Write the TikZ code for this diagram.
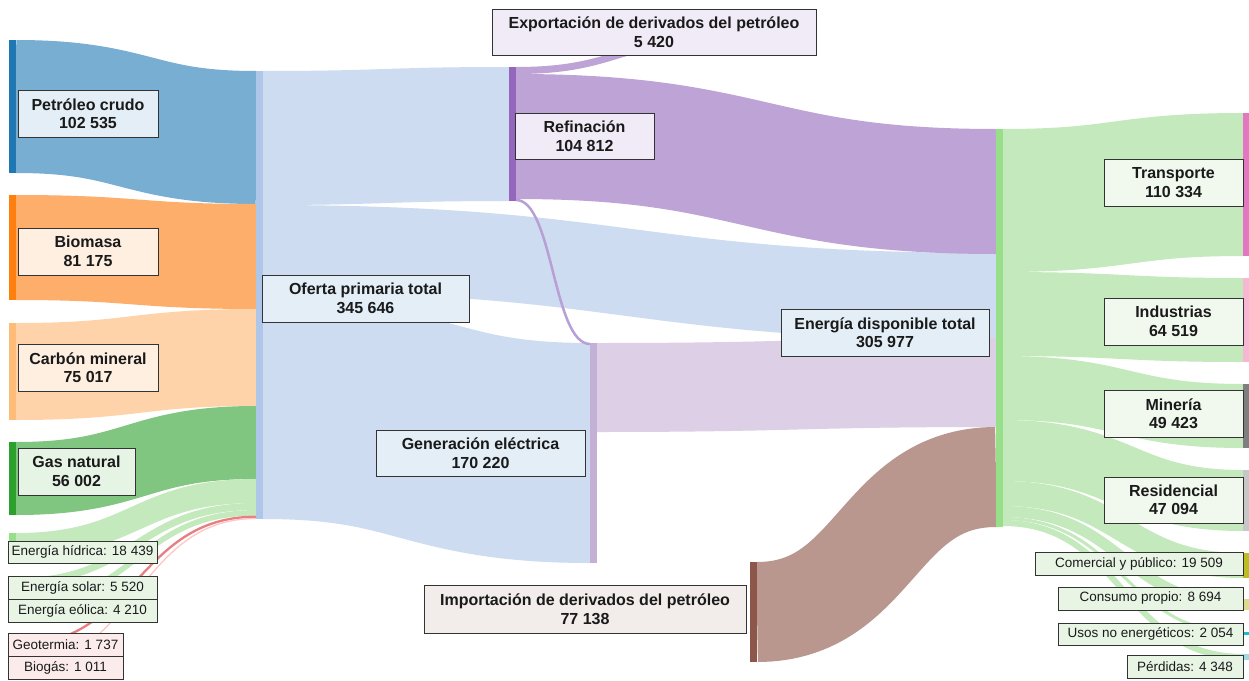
\documentclass[tikz,border=0pt]{standalone}
\usepackage{fontspec}
\setmainfont{Liberation Sans}

% node (bar) colours and link colours
\definecolor{oilbar}{HTML}{1F77B4}  \definecolor{oilflow}{HTML}{79AED3}
\definecolor{biobar}{HTML}{FF7F0E}  \definecolor{bioflow}{HTML}{FDAE6B}
\definecolor{coalbar}{HTML}{FFBB78} \definecolor{coalflow}{HTML}{FFD3AA}
\definecolor{gasbar}{HTML}{2CA02C}  \definecolor{gasflow}{HTML}{80C680}
\definecolor{renbar}{HTML}{98DF8A}  \definecolor{renflow}{HTML}{C3E9BC}
\definecolor{geobar}{HTML}{D62728}  \definecolor{geoflow}{HTML}{E57F80}
\definecolor{biogbar}{HTML}{FF9896} \definecolor{biogflow}{HTML}{FFC6C5}
\definecolor{supbar}{HTML}{AEC7E8}  \definecolor{supflow}{HTML}{CDDCF0}
\definecolor{refbar}{HTML}{9467BD}  \definecolor{refflow}{HTML}{BEA3D6}
\definecolor{refthin}{HTML}{B89FD6}
\definecolor{genbar}{HTML}{C5B0D5}  \definecolor{genflow}{HTML}{DCCFE6}
\definecolor{impbar}{HTML}{8C564B}  \definecolor{impflow}{HTML}{B9978F}
\definecolor{edtbar}{HTML}{98DF8A}  \definecolor{edtflow}{HTML}{C3E9BC}
\definecolor{trabar}{HTML}{E377C2}  \definecolor{indbar}{HTML}{F7B6D2}
\definecolor{minbar}{HTML}{7F7F7F}  \definecolor{resbar}{HTML}{C7C7C7}
\definecolor{combar}{HTML}{BCBD22}  \definecolor{cpbar}{HTML}{DBDB8D}
\definecolor{usobar}{HTML}{17BECF}  \definecolor{perbar}{HTML}{9EDAE5}
% label fills
\definecolor{bluebox}{HTML}{E3EEF6}
\definecolor{orangebox}{HTML}{FEEFE1}
\definecolor{greenbox}{HTML}{E6F4E6}
\definecolor{purplebox}{HTML}{F1EBF7}
\definecolor{brownbox}{HTML}{F2ECEA}
\definecolor{lightgreenbox}{HTML}{F1F9EF}
\definecolor{smallgreenbox}{HTML}{E8F5E5}
\definecolor{smallredbox}{HTML}{FBECEB}
\definecolor{boxline}{HTML}{333333}
\definecolor{labeltext}{HTML}{1A1A1A}

\tikzset{
  lblbase/.style={draw=boxline, line width=1pt, inner sep=0pt, align=center,
    text=labeltext},
  biglbl/.style={lblbase, font=\fontsize{16}{18.5}\selectfont\bfseries},
  smalllbl/.style={lblbase, font=\fontsize{13.5}{15}\selectfont},
}

% link: x1, y-centre at source, x2, y-centre at target, width, colour
\newcommand\sklink[6]{%
  \pgfmathsetmacro\sklmid{(#1+#3)/2}%
  \draw[line width=#5pt, color=#6] (#1,#2) .. controls (\sklmid,#2) and (\sklmid,#4) .. (#3,#4);}

% node bar: x1, y1, x2, y2, colour
\newcommand\skbar[5]{\fill[#5] (#1,#2) rectangle (#3,#4);}

% label box: name, x1, y1, x2, y2, fill, style, text
\newcommand\sklabel[8]{%
  \pgfmathsetmacro\sklw{#4-#2}\pgfmathsetmacro\sklh{#5-#3}%
  \pgfmathsetmacro\sklx{(#2+#4)/2}\pgfmathsetmacro\skly{(#3+#5)/2}%
  \node[#7, fill=#6, minimum width=\sklw pt, minimum height=\sklh pt] (#1) at (\sklx,\skly) {#8};}

\begin{document}
\begin{tikzpicture}[x=1pt, y=-1pt]
\useasboundingbox (0,0) rectangle (1249,680);
\fill[white] (0,0) rectangle (1249,680);

% ---------- primary sources -> Oferta primaria total ----------
\sklink{16}{106.5}{256}{137.5}{133}{oilflow}
\sklink{16}{247.5}{256}{256.5}{105}{bioflow}
\sklink{16}{371.5}{256}{357.5}{97}{coalflow}
\sklink{16}{478.5}{256}{442.5}{73}{gasflow}
\sklink{16}{545}{256}{491}{24}{renflow}
\sklink{16}{581.5}{256}{506.5}{7}{renflow}
\sklink{16}{604.8}{256}{512.8}{5.5}{renflow}
\sklink{16}{645}{256}{516.7}{2.3}{geoflow}
\sklink{16}{667}{256}{518.5}{1.3}{biogflow}

% ---------- Oferta primaria total -> ----------
\sklink{263}{248.5}{996}{296.5}{87}{supflow}
\sklink{263}{409}{590}{453}{220}{supflow}
\sklink{263}{138}{509}{134}{134}{supflow}

% ---------- Refinación -> ----------
\sklink{516}{200}{590}{344}{2.5}{refthin}
\sklink{516}{136.5}{996}{191.5}{125}{refflow}
\sklink{516}{70.5}{720}{39.5}{7}{refflow}

% ---------- Generación eléctrica and imports -> Energía disponible ----------
\sklink{597}{387.5}{996}{382.5}{89}{genflow}
\sklink{757}{612}{996}{477}{100}{impflow}

% ---------- Energía disponible total -> final uses ----------
\sklink{1003}{200.5}{1243}{184.5}{143}{edtflow}
\sklink{1003}{314}{1243}{320}{84}{edtflow}
\sklink{1003}{388}{1243}{416}{64}{edtflow}
\sklink{1003}{450.5}{1243}{500.5}{61}{edtflow}
\sklink{1003}{493.5}{1243}{565.5}{25}{edtflow}
\sklink{1003}{511.5}{1243}{604.5}{11}{edtflow}
\sklink{1003}{518.5}{1243}{633.5}{3}{edtflow}
\sklink{1003}{523}{1243}{657}{6}{edtflow}

% ---------- node bars ----------
\skbar{9}{40}{16}{173}{oilbar}
\skbar{9}{195}{16}{300}{biobar}
\skbar{9}{323}{16}{420}{coalbar}
\skbar{9}{442}{16}{515}{gasbar}
\skbar{9}{533}{16}{557}{renbar}
\skbar{9}{578}{16}{585}{renbar}
\skbar{9}{602}{16}{607.5}{renbar}
\skbar{9}{643.8}{16}{646.2}{geobar}
\skbar{9}{666.3}{16}{667.7}{biogbar}
\skbar{256}{71}{263}{519}{supbar}
\skbar{509}{67}{516}{201}{refbar}
\skbar{590}{343}{597}{563}{genbar}
\skbar{750}{562}{757}{662}{impbar}
\skbar{996}{129}{1003}{527}{edtbar}
\skbar{1243}{113}{1250}{256}{trabar}
\skbar{1243}{278}{1250}{362}{indbar}
\skbar{1243}{384}{1250}{448}{minbar}
\skbar{1243}{470}{1250}{531}{resbar}
\skbar{1243}{553}{1250}{578}{combar}
\skbar{1243}{599}{1250}{610}{cpbar}
\skbar{1243}{632}{1250}{635}{usobar}
\skbar{1243}{654}{1250}{660}{perbar}

% ---------- labels ----------
\sklabel{petroleo}{18}{90}{158}{137}{bluebox}{biglbl}{Petróleo crudo\\102 535}
\sklabel{biomasa}{18}{228}{158}{275}{orangebox}{biglbl}{Biomasa\\81 175}
\sklabel{carbon}{18}{344}{158}{391}{orangebox}{biglbl}{Carbón mineral\\75 017}
\sklabel{gas}{18}{448}{135}{495}{greenbox}{biglbl}{Gas natural\\56 002}
\sklabel{oferta}{262}{275}{469}{322}{bluebox}{biglbl}{Oferta primaria total\\345 646}
\sklabel{export}{492}{9}{816}{55}{purplebox}{biglbl}{Exportación de derivados del petróleo\\5 420}
\sklabel{refin}{515}{113}{654}{159}{purplebox}{biglbl}{Refinación\\104 812}
\sklabel{gener}{376}{430}{585}{476}{bluebox}{biglbl}{Generación eléctrica\\170 220}
\sklabel{edt}{781}{309}{989}{356}{bluebox}{biglbl}{Energía disponible total\\305 977}
\sklabel{import}{424}{585}{746}{633}{brownbox}{biglbl}{Importación de derivados del petróleo\\77 138}
\sklabel{transp}{1104}{159}{1243}{206}{lightgreenbox}{biglbl}{Transporte\\110 334}
\sklabel{indus}{1104}{298}{1243}{345}{lightgreenbox}{biglbl}{Industrias\\64 519}
\sklabel{mineria}{1104}{390}{1243}{437}{lightgreenbox}{biglbl}{Minería\\49 423}
\sklabel{resid}{1104}{477}{1243}{523}{lightgreenbox}{biglbl}{Residencial\\47 094}

\sklabel{hidrica}{8}{541}{157}{563}{smallgreenbox}{smalllbl}{Energía hídrica: 18 439}
\sklabel{solar}{8}{576}{157}{599}{smallgreenbox}{smalllbl}{Energía solar: 5 520}
\sklabel{eolica}{8}{599}{157}{622}{smallgreenbox}{smalllbl}{Energía eólica: 4 210}
\sklabel{geoterm}{8}{633}{123}{656}{smallredbox}{smalllbl}{Geotermia: 1 737}
\sklabel{biogas}{8}{656}{123}{679}{smallredbox}{smalllbl}{Biogás: 1 011}
\sklabel{comerc}{1035}{552}{1243}{575}{smallgreenbox}{smalllbl}{Comercial y público: 19 509}
\sklabel{consumo}{1058}{587}{1243}{610}{smallgreenbox}{smalllbl}{Consumo propio: 8 694}
\sklabel{usos}{1058}{623}{1243}{645}{smallgreenbox}{smalllbl}{Usos no energéticos: 2 054}
\sklabel{perdidas}{1127}{655}{1243}{678}{smallgreenbox}{smalllbl}{Pérdidas: 4 348}
\end{tikzpicture}
\end{document}
